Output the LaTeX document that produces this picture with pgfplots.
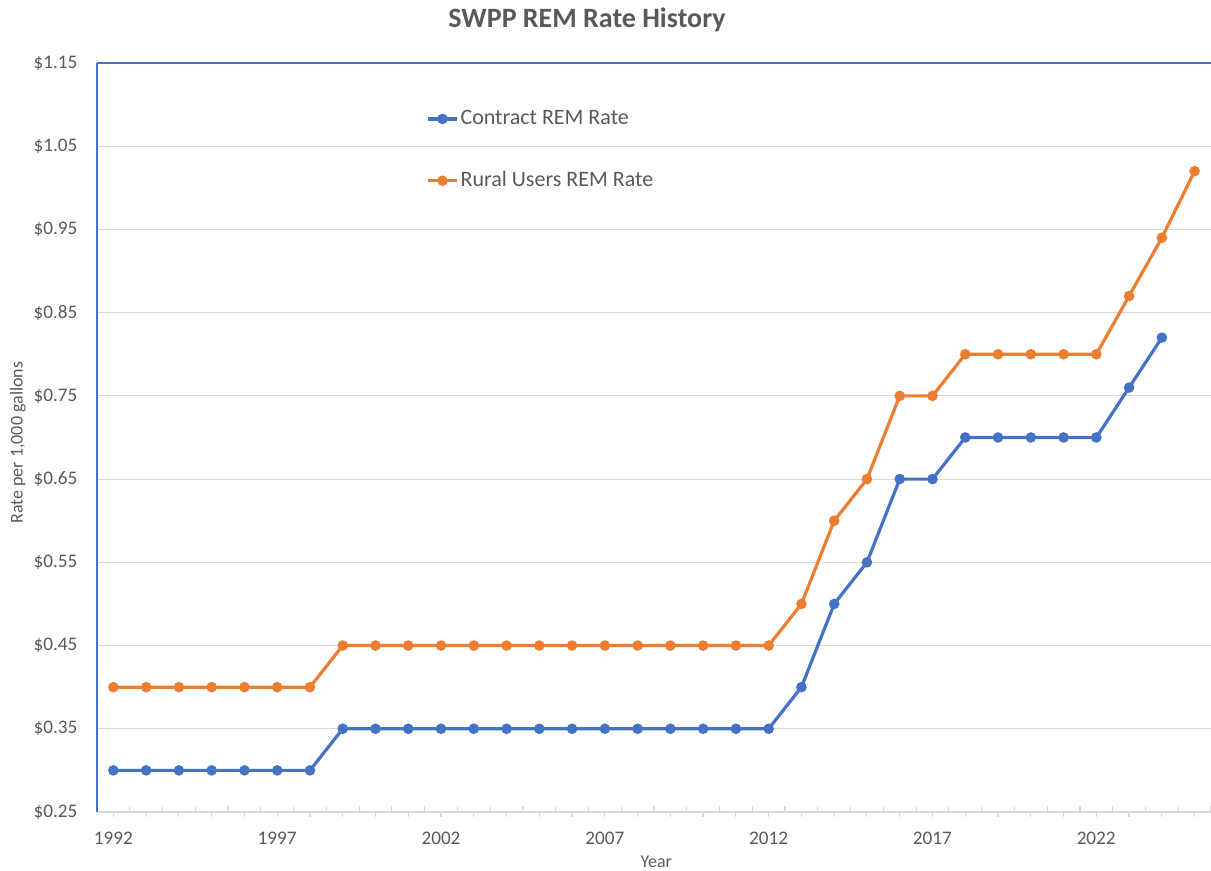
\documentclass[border=0pt]{standalone}
\usepackage{fontspec}
\setmainfont{Carlito}
\usepackage{pgfplots}
\pgfplotsset{compat=1.18}
\definecolor{cblue}{HTML}{4472C4}
\definecolor{corange}{HTML}{ED7D31}
\definecolor{txt}{HTML}{595959}
\definecolor{gridc}{HTML}{D9D9D9}
\begin{document}
\begin{tikzpicture}
\begin{axis}[
  name=ax, at={(0,0)}, anchor=south west,
  scale only axis, width=557pt, height=374.5pt,
  xmin=1991.5, xmax=2025.5, ymin=0.25, ymax=1.15,
  axis x line*=bottom, axis y line*=left,
  x axis line style={-, draw=gridc, line width=0.8pt},
  y axis line style={-, draw=cblue, line width=0.8pt},
  xtick={1992,...,2025},
  xticklabels={1992,,,,,1997,,,,,2002,,,,,2007,,,,,2012,,,,,2017,,,,,2022,,,},
  minor xtick={1991.5,1992.5,...,2025.5},
  tick align=inside,
  major tick length=2.5pt, minor tick length=3pt,
  major tick style={yshift=-2.5pt, draw=gridc, line width=0.6pt},
  minor tick style={draw=gridc, line width=0.6pt},
  ytick={0.25,0.35,0.45,0.55,0.65,0.75,0.85,0.95,1.05,1.15},
  y tick style={draw=none},
  yticklabel={\$\pgfmathprintnumber[fixed,fixed zerofill,precision=2]{\tick}},
  /pgf/number format/assume math mode=true,
  ymajorgrids, grid style={gridc, line width=0.6pt},
  ticklabel style={font=\fontsize{9.6}{11}\selectfont, text=txt},
  xticklabel style={anchor=north, yshift=-6.5pt},
  yticklabel style={anchor=east, xshift=-6.3pt},
  xlabel={Year}, ylabel={Rate per 1,000 gallons},
  label style={font=\fontsize{9}{11}\selectfont, text=txt},
  xlabel style={at={(axis description cs:0.502,-0.0668)}, anchor=center},
  ylabel style={at={(axis description cs:-0.0709,0.493)}, anchor=center, rotate=0},
  legend style={at={(axis description cs:0.2953,0.94)}, anchor=north west, draw=none, fill=none,
    font=\fontsize{11}{13}\selectfont, text=txt, row sep=20pt, inner sep=0pt,
    nodes={inner sep=1pt}},
  legend cell align=left,
  legend image code/.code={\draw[mark repeat=2,mark phase=2] plot coordinates {(0pt,0pt)(7.25pt,0pt)(14.5pt,0pt)};},
  every axis plot/.append style={line width=1.6pt, mark=*, mark size=1.8pt, mark options={solid}},
  clip=false,
]
\addplot[color=cblue] coordinates {
(1992,0.30)(1993,0.30)(1994,0.30)(1995,0.30)(1996,0.30)(1997,0.30)(1998,0.30)
(1999,0.35)(2000,0.35)(2001,0.35)(2002,0.35)(2003,0.35)(2004,0.35)(2005,0.35)
(2006,0.35)(2007,0.35)(2008,0.35)(2009,0.35)(2010,0.35)(2011,0.35)(2012,0.35)
(2013,0.40)(2014,0.50)(2015,0.55)(2016,0.65)(2017,0.65)(2018,0.70)(2019,0.70)
(2020,0.70)(2021,0.70)(2022,0.70)(2023,0.76)(2024,0.82)};
\addlegendentry{Contract REM Rate}
\addplot[color=corange] coordinates {
(1992,0.40)(1993,0.40)(1994,0.40)(1995,0.40)(1996,0.40)(1997,0.40)(1998,0.40)
(1999,0.45)(2000,0.45)(2001,0.45)(2002,0.45)(2003,0.45)(2004,0.45)(2005,0.45)
(2006,0.45)(2007,0.45)(2008,0.45)(2009,0.45)(2010,0.45)(2011,0.45)(2012,0.45)
(2013,0.50)(2014,0.60)(2015,0.65)(2016,0.75)(2017,0.75)(2018,0.80)(2019,0.80)
(2020,0.80)(2021,0.80)(2022,0.80)(2023,0.87)(2024,0.94)(2025,1.02)};
\addlegendentry{Rural Users REM Rate}
\draw[cblue, line width=0.8pt] (rel axis cs:0,1) -- (rel axis cs:1,1);
\end{axis}
\node[anchor=base, font=\fontsize{14}{16}\selectfont\bfseries, text=txt, inner sep=0pt] at (245pt,392pt) {SWPP REM Rate History};
\pgfresetboundingbox
\path[use as bounding box] (-48.5pt,-29.5pt) rectangle (557pt,406pt);
\end{tikzpicture}
\end{document}
